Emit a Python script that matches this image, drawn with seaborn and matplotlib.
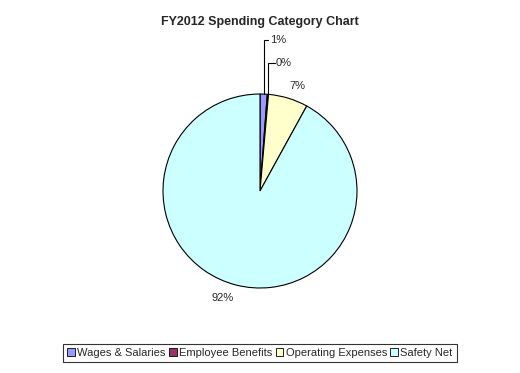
import numpy as np
import matplotlib
matplotlib.use('Agg')
import matplotlib.pyplot as plt
import seaborn as sns

sns.set_theme(style='white')
plt.rcParams['font.family'] = ['Liberation Sans', 'DejaVu Sans']

# data (percent of total)
categories = ['Wages & Salaries', 'Employee Benefits', 'Operating Expenses', 'Safety Net']
values = [1.2, 0.2, 6.6, 92.0]
pct_labels = ['1%', '0%', '7%', '92%']
colors = ['#9999FF', '#993366', '#FFFFCC', '#CCFFFF']

fig = plt.figure(figsize=(5.2, 3.73), dpi=100)
fig.patch.set_facecolor('white')
W, H = 520, 373
cx, cy, r = 260, 191, 97
ax = fig.add_axes([(cx - r) / W, (H - cy - r) / H, 2 * r / W, 2 * r / H])

wedges, _ = ax.pie(values, colors=colors, startangle=90, counterclock=False,
                   wedgeprops=dict(edgecolor='black', linewidth=0.8), radius=1.0)
ax.set_xlim(-1, 1)
ax.set_ylim(-1, 1)
ax.set_aspect('equal')
ax.axis('off')

# label positions (data units, radius = 1)
label_pos = [(0.10, 1.56), (0.165, 1.32), (0.30, 1.08), (-0.50, -1.10)]
leader = [True, True, False, False]
for w, lab, (tx, ty), ld in zip(wedges, pct_labels, label_pos, leader):
    mid = np.deg2rad((w.theta1 + w.theta2) / 2)
    ex, ey = np.cos(mid), np.sin(mid)
    if ld:
        ax.plot([ex, ex, tx - 0.015], [ey, ty, ty], color='black', lw=0.8,
                clip_on=False, solid_joinstyle='miter')
    ax.text(tx, ty, lab, ha='left', va='center', fontsize=8)

fig.text(0.5, 1 - 22 / H, 'FY2012 Spending Category Chart', ha='center', va='center',
         fontsize=9, fontweight='bold')

handles = [plt.Rectangle((0, 0), 1, 1, facecolor=c, edgecolor='black', lw=0.6) for c in colors]
leg = fig.legend(handles, categories, loc='center', bbox_to_anchor=(0.5, 1 - 353 / H),
                 ncol=4, fontsize=8, frameon=True, fancybox=False, edgecolor='black',
                 handlelength=0.7, handleheight=0.7, handletextpad=0.2,
                 columnspacing=0.3, borderpad=0.35, borderaxespad=0)
leg.get_frame().set_linewidth(0.8)

fig.savefig('out.png', dpi=100, facecolor='white')
